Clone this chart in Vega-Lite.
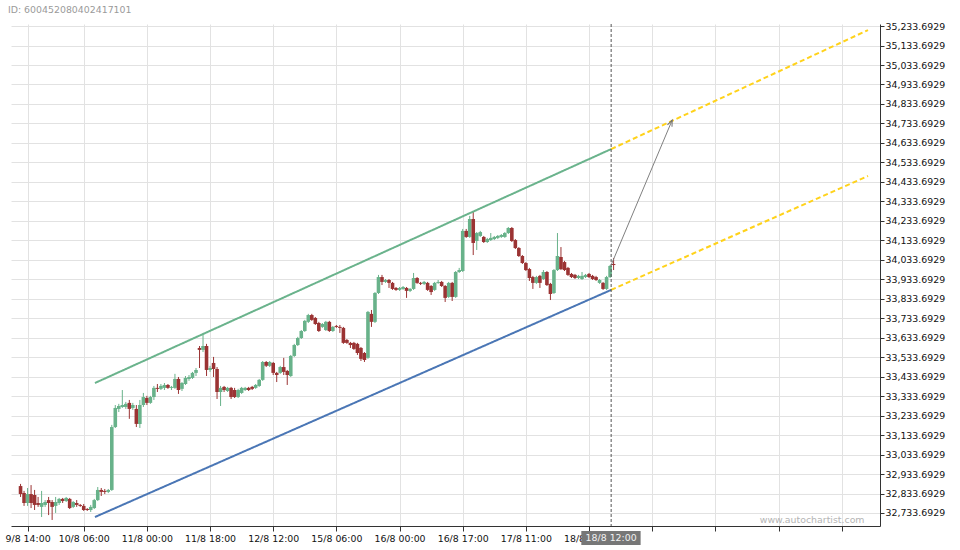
{
  "$schema": "https://vega.github.io/schema/vega-lite/v6.json",
  "width": 869,
  "height": 502,
  "autosize": {"type": "none"},
  "padding": {"left": 11, "top": 24, "right": 80, "bottom": 24},
  "background": "white",
  "title": {"text": "ID: 600452080402417101", "anchor": "start", "frame": "group", "dx": -3, "dy": 11, "offset": 10, "baseline": "alphabetic", "fontSize": 9.4, "fontWeight": "normal", "color": "#9a9a9a", "font": "DejaVu Sans"},
  "config": {
    "view": {"stroke": null},
    "font": "DejaVu Sans",
    "axis": {"labelFont": "DejaVu Sans", "labelFontSize": 9.4, "labelColor": "#111", "labelOverlap": false, "labelFlush": false, "gridColor": "#e2e2e2", "gridWidth": 1, "domainColor": "#333", "tickColor": "#333"}
  },
  "datasets": {
    "candles": [
      {"i":-2,"o":32872,"c":32831,"h":32883,"l":32816},
      {"i":-1,"o":32836,"c":32785,"h":32847,"l":32770},
      {"i":0,"o":32785,"c":32831,"h":32862,"l":32770},
      {"i":1,"o":32831,"c":32785,"h":32877,"l":32759},
      {"i":2,"o":32826,"c":32775,"h":32852,"l":32749},
      {"i":3,"o":32785,"c":32775,"h":32816,"l":32765},
      {"i":4,"o":32765,"c":32785,"h":32847,"l":32713},
      {"i":5,"o":32775,"c":32790,"h":32800,"l":32765},
      {"i":6,"o":32800,"c":32785,"h":32816,"l":32723},
      {"i":7,"o":32790,"c":32765,"h":32800,"l":32698},
      {"i":8,"o":32770,"c":32790,"h":32816,"l":32734},
      {"i":9,"o":32785,"c":32806,"h":32811,"l":32775},
      {"i":10,"o":32806,"c":32795,"h":32811,"l":32785},
      {"i":11,"o":32795,"c":32811,"h":32816,"l":32790},
      {"i":12,"o":32806,"c":32759,"h":32811,"l":32754},
      {"i":13,"o":32765,"c":32790,"h":32795,"l":32759},
      {"i":14,"o":32785,"c":32775,"h":32800,"l":32765},
      {"i":15,"o":32775,"c":32770,"h":32780,"l":32765},
      {"i":16,"o":32770,"c":32749,"h":32780,"l":32744},
      {"i":17,"o":32754,"c":32749,"h":32759,"l":32744},
      {"i":18,"o":32749,"c":32765,"h":32775,"l":32739},
      {"i":19,"o":32759,"c":32800,"h":32806,"l":32754},
      {"i":20,"o":32800,"c":32852,"h":32867,"l":32795},
      {"i":21,"o":32852,"c":32842,"h":32862,"l":32821},
      {"i":22,"o":32847,"c":32842,"h":32857,"l":32831},
      {"i":23,"o":32842,"c":32852,"h":32857,"l":32836},
      {"i":24,"o":32852,"c":33175,"h":33186,"l":32847},
      {"i":25,"o":33175,"c":33273,"h":33288,"l":33170},
      {"i":26,"o":33268,"c":33283,"h":33294,"l":33252},
      {"i":27,"o":33278,"c":33288,"h":33365,"l":33273},
      {"i":28,"o":33278,"c":33294,"h":33304,"l":33268},
      {"i":29,"o":33299,"c":33268,"h":33314,"l":33217},
      {"i":30,"o":33273,"c":33288,"h":33299,"l":33263},
      {"i":31,"o":33268,"c":33191,"h":33288,"l":33175},
      {"i":32,"o":33191,"c":33288,"h":33314,"l":33170},
      {"i":33,"o":33288,"c":33329,"h":33350,"l":33278},
      {"i":34,"o":33324,"c":33299,"h":33335,"l":33288},
      {"i":35,"o":33299,"c":33329,"h":33335,"l":33294},
      {"i":36,"o":33329,"c":33376,"h":33386,"l":33314},
      {"i":37,"o":33376,"c":33371,"h":33396,"l":33355},
      {"i":38,"o":33371,"c":33386,"h":33396,"l":33365},
      {"i":39,"o":33376,"c":33391,"h":33401,"l":33365},
      {"i":40,"o":33391,"c":33376,"h":33396,"l":33371},
      {"i":41,"o":33376,"c":33381,"h":33386,"l":33365},
      {"i":42,"o":33376,"c":33422,"h":33448,"l":33371},
      {"i":43,"o":33422,"c":33365,"h":33432,"l":33345},
      {"i":44,"o":33371,"c":33401,"h":33406,"l":33360},
      {"i":45,"o":33396,"c":33427,"h":33437,"l":33391},
      {"i":46,"o":33422,"c":33432,"h":33442,"l":33412},
      {"i":47,"o":33427,"c":33453,"h":33458,"l":33422},
      {"i":48,"o":33453,"c":33468,"h":33478,"l":33437},
      {"i":49,"o":33581,"c":33571,"h":33591,"l":33478},
      {"i":50,"o":33571,"c":33591,"h":33658,"l":33560},
      {"i":51,"o":33591,"c":33468,"h":33602,"l":33437},
      {"i":52,"o":33468,"c":33478,"h":33489,"l":33458},
      {"i":53,"o":33504,"c":33473,"h":33535,"l":33432},
      {"i":54,"o":33473,"c":33355,"h":33483,"l":33319},
      {"i":55,"o":33355,"c":33376,"h":33386,"l":33283},
      {"i":56,"o":33381,"c":33365,"h":33386,"l":33355},
      {"i":57,"o":33360,"c":33376,"h":33381,"l":33355},
      {"i":58,"o":33376,"c":33329,"h":33381,"l":33319},
      {"i":59,"o":33365,"c":33329,"h":33376,"l":33324},
      {"i":60,"o":33329,"c":33365,"h":33371,"l":33324},
      {"i":61,"o":33350,"c":33376,"h":33381,"l":33345},
      {"i":62,"o":33365,"c":33376,"h":33381,"l":33360},
      {"i":63,"o":33376,"c":33365,"h":33381,"l":33360},
      {"i":64,"o":33381,"c":33371,"h":33386,"l":33365},
      {"i":65,"o":33376,"c":33391,"h":33396,"l":33371},
      {"i":66,"o":33386,"c":33417,"h":33422,"l":33381},
      {"i":67,"o":33417,"c":33509,"h":33514,"l":33412},
      {"i":68,"o":33509,"c":33489,"h":33514,"l":33483},
      {"i":69,"o":33489,"c":33509,"h":33514,"l":33483},
      {"i":70,"o":33504,"c":33453,"h":33509,"l":33442},
      {"i":71,"o":33453,"c":33442,"h":33458,"l":33406},
      {"i":72,"o":33453,"c":33483,"h":33489,"l":33448},
      {"i":73,"o":33483,"c":33458,"h":33530,"l":33442},
      {"i":74,"o":33463,"c":33442,"h":33468,"l":33391},
      {"i":75,"o":33437,"c":33540,"h":33545,"l":33432},
      {"i":76,"o":33540,"c":33596,"h":33602,"l":33535},
      {"i":77,"o":33596,"c":33632,"h":33638,"l":33591},
      {"i":78,"o":33632,"c":33668,"h":33673,"l":33627},
      {"i":79,"o":33668,"c":33720,"h":33725,"l":33663},
      {"i":80,"o":33715,"c":33750,"h":33756,"l":33709},
      {"i":81,"o":33750,"c":33725,"h":33756,"l":33720},
      {"i":82,"o":33735,"c":33704,"h":33740,"l":33699},
      {"i":83,"o":33709,"c":33668,"h":33715,"l":33663},
      {"i":84,"o":33689,"c":33704,"h":33709,"l":33684},
      {"i":85,"o":33673,"c":33715,"h":33720,"l":33668},
      {"i":86,"o":33715,"c":33668,"h":33720,"l":33663},
      {"i":87,"o":33668,"c":33689,"h":33694,"l":33663},
      {"i":88,"o":33694,"c":33689,"h":33699,"l":33684},
      {"i":89,"o":33689,"c":33684,"h":33699,"l":33658},
      {"i":90,"o":33684,"c":33607,"h":33689,"l":33602},
      {"i":91,"o":33622,"c":33607,"h":33627,"l":33602},
      {"i":92,"o":33607,"c":33596,"h":33612,"l":33581},
      {"i":93,"o":33607,"c":33576,"h":33612,"l":33571},
      {"i":94,"o":33602,"c":33555,"h":33607,"l":33545},
      {"i":95,"o":33581,"c":33525,"h":33586,"l":33514},
      {"i":96,"o":33555,"c":33519,"h":33560,"l":33509},
      {"i":97,"o":33530,"c":33766,"h":33771,"l":33525},
      {"i":98,"o":33756,"c":33715,"h":33776,"l":33689},
      {"i":99,"o":33715,"c":33863,"h":33868,"l":33709},
      {"i":100,"o":33863,"c":33945,"h":33956,"l":33858},
      {"i":101,"o":33945,"c":33920,"h":33956,"l":33904},
      {"i":102,"o":33920,"c":33930,"h":33935,"l":33915},
      {"i":103,"o":33930,"c":33915,"h":33935,"l":33889},
      {"i":104,"o":33915,"c":33884,"h":33920,"l":33879},
      {"i":105,"o":33889,"c":33879,"h":33894,"l":33874},
      {"i":106,"o":33879,"c":33889,"h":33894,"l":33874},
      {"i":107,"o":33884,"c":33894,"h":33899,"l":33879},
      {"i":108,"o":33889,"c":33874,"h":33894,"l":33838},
      {"i":109,"o":33874,"c":33884,"h":33889,"l":33868},
      {"i":110,"o":33884,"c":33940,"h":33966,"l":33879},
      {"i":111,"o":33940,"c":33915,"h":33945,"l":33910},
      {"i":112,"o":33915,"c":33910,"h":33920,"l":33904},
      {"i":113,"o":33910,"c":33920,"h":33925,"l":33904},
      {"i":114,"o":33915,"c":33879,"h":33920,"l":33874},
      {"i":115,"o":33899,"c":33868,"h":33904,"l":33853},
      {"i":116,"o":33879,"c":33915,"h":33920,"l":33874},
      {"i":117,"o":33915,"c":33920,"h":33930,"l":33910},
      {"i":118,"o":33920,"c":33899,"h":33925,"l":33894},
      {"i":119,"o":33899,"c":33838,"h":33904,"l":33817},
      {"i":120,"o":33843,"c":33915,"h":33920,"l":33838},
      {"i":121,"o":33915,"c":33843,"h":33920,"l":33822},
      {"i":122,"o":33843,"c":33971,"h":33976,"l":33838},
      {"i":123,"o":33971,"c":33981,"h":33992,"l":33966},
      {"i":124,"o":33976,"c":34182,"h":34192,"l":33971},
      {"i":125,"o":34182,"c":34151,"h":34192,"l":34146},
      {"i":126,"o":34151,"c":34243,"h":34259,"l":34146},
      {"i":127,"o":34243,"c":34120,"h":34279,"l":34058},
      {"i":128,"o":34130,"c":34171,"h":34176,"l":34084},
      {"i":129,"o":34156,"c":34176,"h":34182,"l":34151},
      {"i":130,"o":34151,"c":34125,"h":34156,"l":34120},
      {"i":131,"o":34125,"c":34140,"h":34146,"l":34120},
      {"i":132,"o":34135,"c":34146,"h":34171,"l":34130},
      {"i":133,"o":34140,"c":34151,"h":34156,"l":34135},
      {"i":134,"o":34146,"c":34156,"h":34161,"l":34140},
      {"i":135,"o":34151,"c":34161,"h":34166,"l":34146},
      {"i":136,"o":34151,"c":34171,"h":34176,"l":34146},
      {"i":137,"o":34171,"c":34197,"h":34202,"l":34166},
      {"i":138,"o":34197,"c":34130,"h":34202,"l":34125},
      {"i":139,"o":34135,"c":34094,"h":34140,"l":34089},
      {"i":140,"o":34094,"c":34053,"h":34099,"l":34048},
      {"i":141,"o":34053,"c":34017,"h":34058,"l":34012},
      {"i":142,"o":34017,"c":33981,"h":34022,"l":33976},
      {"i":143,"o":33986,"c":33940,"h":33992,"l":33925},
      {"i":144,"o":33945,"c":33915,"h":33951,"l":33884},
      {"i":145,"o":33915,"c":33945,"h":33951,"l":33910},
      {"i":146,"o":33951,"c":33915,"h":33956,"l":33889},
      {"i":147,"o":33935,"c":33971,"h":33981,"l":33930},
      {"i":148,"o":33971,"c":33904,"h":33976,"l":33899},
      {"i":149,"o":33910,"c":33858,"h":33915,"l":33827},
      {"i":150,"o":33863,"c":33981,"h":33986,"l":33858},
      {"i":151,"o":33981,"c":34053,"h":34171,"l":33976},
      {"i":152,"o":34048,"c":33986,"h":34099,"l":33981},
      {"i":153,"o":34022,"c":33981,"h":34028,"l":33976},
      {"i":154,"o":33992,"c":33956,"h":33997,"l":33951},
      {"i":155,"o":33961,"c":33945,"h":33966,"l":33940},
      {"i":156,"o":33956,"c":33940,"h":33961,"l":33935},
      {"i":157,"o":33940,"c":33951,"h":33956,"l":33935},
      {"i":158,"o":33935,"c":33951,"h":33971,"l":33930},
      {"i":159,"o":33945,"c":33956,"h":33961,"l":33940},
      {"i":160,"o":33961,"c":33945,"h":33966,"l":33940},
      {"i":161,"o":33951,"c":33935,"h":33956,"l":33930},
      {"i":162,"o":33945,"c":33930,"h":33951,"l":33925},
      {"i":163,"o":33915,"c":33930,"h":33935,"l":33910},
      {"i":164,"o":33915,"c":33884,"h":33920,"l":33879},
      {"i":165,"o":33884,"c":33945,"h":33951,"l":33879},
      {"i":166,"o":33945,"c":34002,"h":34007,"l":33940},
      {"i":167,"o":34012,"c":34007,"h":34043,"l":33981}
    ],
    "lines": [
      {"k":"upper","i":19.2,"p":33401},
      {"k":"upper","i":166.3,"p":34602},
      {"k":"lower","i":19.2,"p":32713},
      {"k":"lower","i":166.3,"p":33879},
      {"k":"projU","i":166.3,"p":34602},
      {"k":"projU","i":239.5,"p":35213},
      {"k":"projL","i":166.3,"p":33879},
      {"k":"projL","i":239.5,"p":34464}
    ],
    "arrow": [
      {"i":166.3,"p":34007},
      {"i":183.7,"p":34751}
    ],
    "tag": [
      {"i1":157.8,"i2":174.7,"p1":32641,"p2":32569,"i":166.3,"p":32603,"t":"18/8 12:00"}
    ],
    "mark": [
      {"i":238.5,"p":32698,"t":"www.autochartist.com"}
    ]
  },
  "layer": [
    {
      "data": {"name": "candles"},
      "mark": {"type": "rule", "strokeWidth": 1},
      "encoding": {
        "x": {"field": "i", "type": "quantitative", "scale": {"domain": [-3.296, 241.49], "nice": false, "zero": false},
          "axis": {"values": [0,16,34,52,70,88,106,124,142,160,178,196,214,232], "tickCount": 40, "title": null, "grid": true, "tickSize": 5, "labelPadding": 3, "labelOverlap": false, "labelFlush": false,
            "labelExpr": "datum.value==0?'9/8 14:00':datum.value==16?'10/8 06:00':datum.value==34?'11/8 00:00':datum.value==52?'11/8 18:00':datum.value==70?'12/8 12:00':datum.value==88?'15/8 06:00':datum.value==106?'16/8 00:00':datum.value==124?'16/8 17:00':datum.value==142?'17/8 11:00':datum.value==160?'18/8 05:00':''"}},
        "y": {"field": "l", "type": "quantitative", "scale": {"domain": [32666.9, 35244.2], "nice": false, "zero": false},
          "axis": {"orient": "right", "title": null, "tickCount": 40, "values": [32733.6929,32833.6929,32933.6929,33033.6929,33133.6929,33233.6929,33333.6929,33433.6929,33533.6929,33633.6929,33733.6929,33833.6929,33933.6929,34033.6929,34133.6929,34233.6929,34333.6929,34433.6929,34533.6929,34633.6929,34733.6929,34833.6929,34933.6929,35033.6929,35133.6929,35233.6929], "format": ",.4f", "tickSize": 4, "labelPadding": 1, "labelOverlap": false, "labelFlush": false, "grid": true}},
        "y2": {"field": "h"},
        "color": {"condition": {"test": "datum.c >= datum.o", "value": "#68b28a"}, "value": "#9b3333"}
      }
    },
    {
      "data": {"name": "candles"},
      "mark": {"type": "bar", "size": 3.6},
      "encoding": {
        "x": {"field": "i", "type": "quantitative"},
        "y": {"field": "o", "type": "quantitative"},
        "y2": {"field": "c"},
        "color": {"condition": {"test": "datum.c >= datum.o", "value": "#68b28a"}, "value": "#9b3333"}
      }
    },
    {
      "data": {"name": "lines"},
      "mark": {"type": "line", "strokeWidth": 2},
      "encoding": {
        "x": {"field": "i", "type": "quantitative"},
        "y": {"field": "p", "type": "quantitative"},
        "detail": {"field": "k"},
        "color": {"field": "k", "type": "nominal", "legend": null, "scale": {"domain": ["upper","lower","projU","projL"], "range": ["#6ab38c","#4a76b5","#ffd21a","#ffd21a"]}},
        "strokeDash": {"field": "k", "type": "nominal", "legend": null, "scale": {"domain": ["upper","lower","projU","projL"], "range": [[1,0],[1,0],[5,3],[5,3]]}}
      }
    },
    {
      "data": {"name": "arrow"},
      "mark": {"type": "line", "strokeWidth": 1, "color": "#808080"},
      "encoding": {
        "x": {"field": "i", "type": "quantitative"},
        "y": {"field": "p", "type": "quantitative"}
      }
    },
    {
      "data": {"name": "arrow"},
      "transform": [{"filter": "datum.i > 170"}],
      "mark": {"type": "point", "shape": "M-0.7,1.8L0,0L0.7,1.8", "filled": false, "stroke": "#707070", "strokeWidth": 1, "size": 49, "angle": 23, "opacity": 1},
      "encoding": {
        "x": {"field": "i", "type": "quantitative"},
        "y": {"field": "p", "type": "quantitative"}
      }
    },
    {
      "data": {"values": [{}]},
      "mark": {"type": "rule", "color": "#555555", "strokeWidth": 1, "strokeDash": [3, 2]},
      "encoding": {
        "x": {"datum": 166.3, "type": "quantitative"}
      }
    },
    {
      "data": {"name": "tag"},
      "mark": {"type": "rect", "color": "#777777"},
      "encoding": {
        "x": {"field": "i1", "type": "quantitative"},
        "x2": {"field": "i2"},
        "y": {"field": "p1", "type": "quantitative"},
        "y2": {"field": "p2"}
      }
    },
    {
      "data": {"name": "tag"},
      "mark": {"type": "text", "color": "#f2f2f2", "fontSize": 9.4, "font": "DejaVu Sans", "align": "center", "baseline": "middle"},
      "encoding": {
        "x": {"field": "i", "type": "quantitative"},
        "y": {"field": "p", "type": "quantitative"},
        "text": {"field": "t"}
      }
    },
    {
      "data": {"name": "mark"},
      "mark": {"type": "text", "color": "#b5b5b5", "fontSize": 9.4, "font": "DejaVu Sans", "align": "right", "baseline": "middle"},
      "encoding": {
        "x": {"field": "i", "type": "quantitative"},
        "y": {"field": "p", "type": "quantitative"},
        "text": {"field": "t"}
      }
    }
  ]
}
